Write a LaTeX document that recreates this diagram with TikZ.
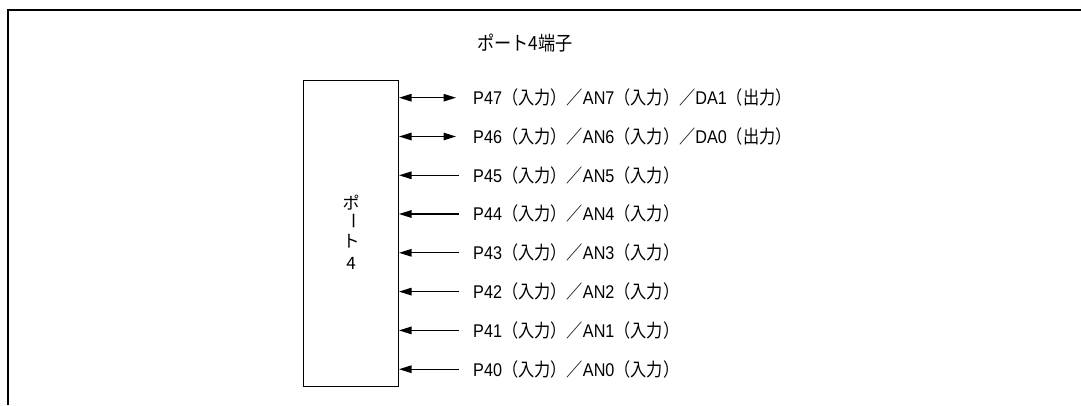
\documentclass[tikz,border=0pt]{standalone}
\usepackage{fontspec}
\setmainfont{Liberation Sans}
\newfontfamily\cjk{Noto Sans CJK JP}
\usetikzlibrary{arrows.meta}
\newcommand\narrow[1]{\scalebox{0.88}[1]{#1}}
\begin{document}
\begin{tikzpicture}[x=1pt,y=-1pt,
  lbl/.style={anchor=west,inner sep=0pt,font=\fontsize{18.4}{20}\selectfont},
  vch/.style={inner sep=0pt,font=\cjk\fontsize{17}{20}\selectfont},
  pin/.style={line width=1.2pt,{Triangle[length=12.5pt,width=7.5pt]}-},
  bipin/.style={line width=1.2pt,{Triangle[length=12.5pt,width=7.5pt]}-{Triangle[length=12.5pt,width=7.5pt]}},
  frameline/.style={line width=2.5pt}]
\useasboundingbox (0,0) rectangle (1081,405);
\draw[frameline] (8,405) -- (8,10) -- (1081,10);
\node[font=\cjk\fontsize{19.5}{20}\selectfont,inner sep=0pt] (title) at (525,43) {\narrow{ポート4端子}};
\node[draw,line width=1pt,minimum width=95pt,minimum height=306pt,inner sep=0pt] (box) at (351,233) {};
\node[vch] (c1) at (351,203) {ポ};
\node[vch] (c2) at (351,221) {\rotatebox[origin=c]{-90}{ー}};
\node[vch] (c3) at (351,241) {ト};
\node[vch] (c4) at (351,263) {4};
\def\J#1{{\cjk #1}}
\node[lbl] (l7) at (473,97.7) {\narrow{P47\J{（入力）／}AN7\J{（入力）／}DA1\J{（出力）}}};
\node[lbl] (l6) at (473,136.5) {\narrow{P46\J{（入力）／}AN6\J{（入力）／}DA0\J{（出力）}}};
\node[lbl] (l5) at (473,175.3) {\narrow{P45\J{（入力）／}AN5\J{（入力）}}};
\node[lbl] (l4) at (473,214) {\narrow{P44\J{（入力）／}AN4\J{（入力）}}};
\node[lbl] (l3) at (473,252.8) {\narrow{P43\J{（入力）／}AN3\J{（入力）}}};
\node[lbl] (l2) at (473,291.6) {\narrow{P42\J{（入力）／}AN2\J{（入力）}}};
\node[lbl] (l1) at (473,330.4) {\narrow{P41\J{（入力）／}AN1\J{（入力）}}};
\node[lbl] (l0) at (473,369.2) {\narrow{P40\J{（入力）／}AN0\J{（入力）}}};
\draw[bipin,shorten >=17pt] (box.east |- l7.west) -- (l7.west);
\draw[bipin,shorten >=17pt] (box.east |- l6.west) -- (l6.west);
\foreach \n in {l5,l4,l3,l2,l1,l0}
  \draw[pin,shorten >=14pt] (box.east |- \n.west) -- (\n.west);
\end{tikzpicture}
\end{document}
